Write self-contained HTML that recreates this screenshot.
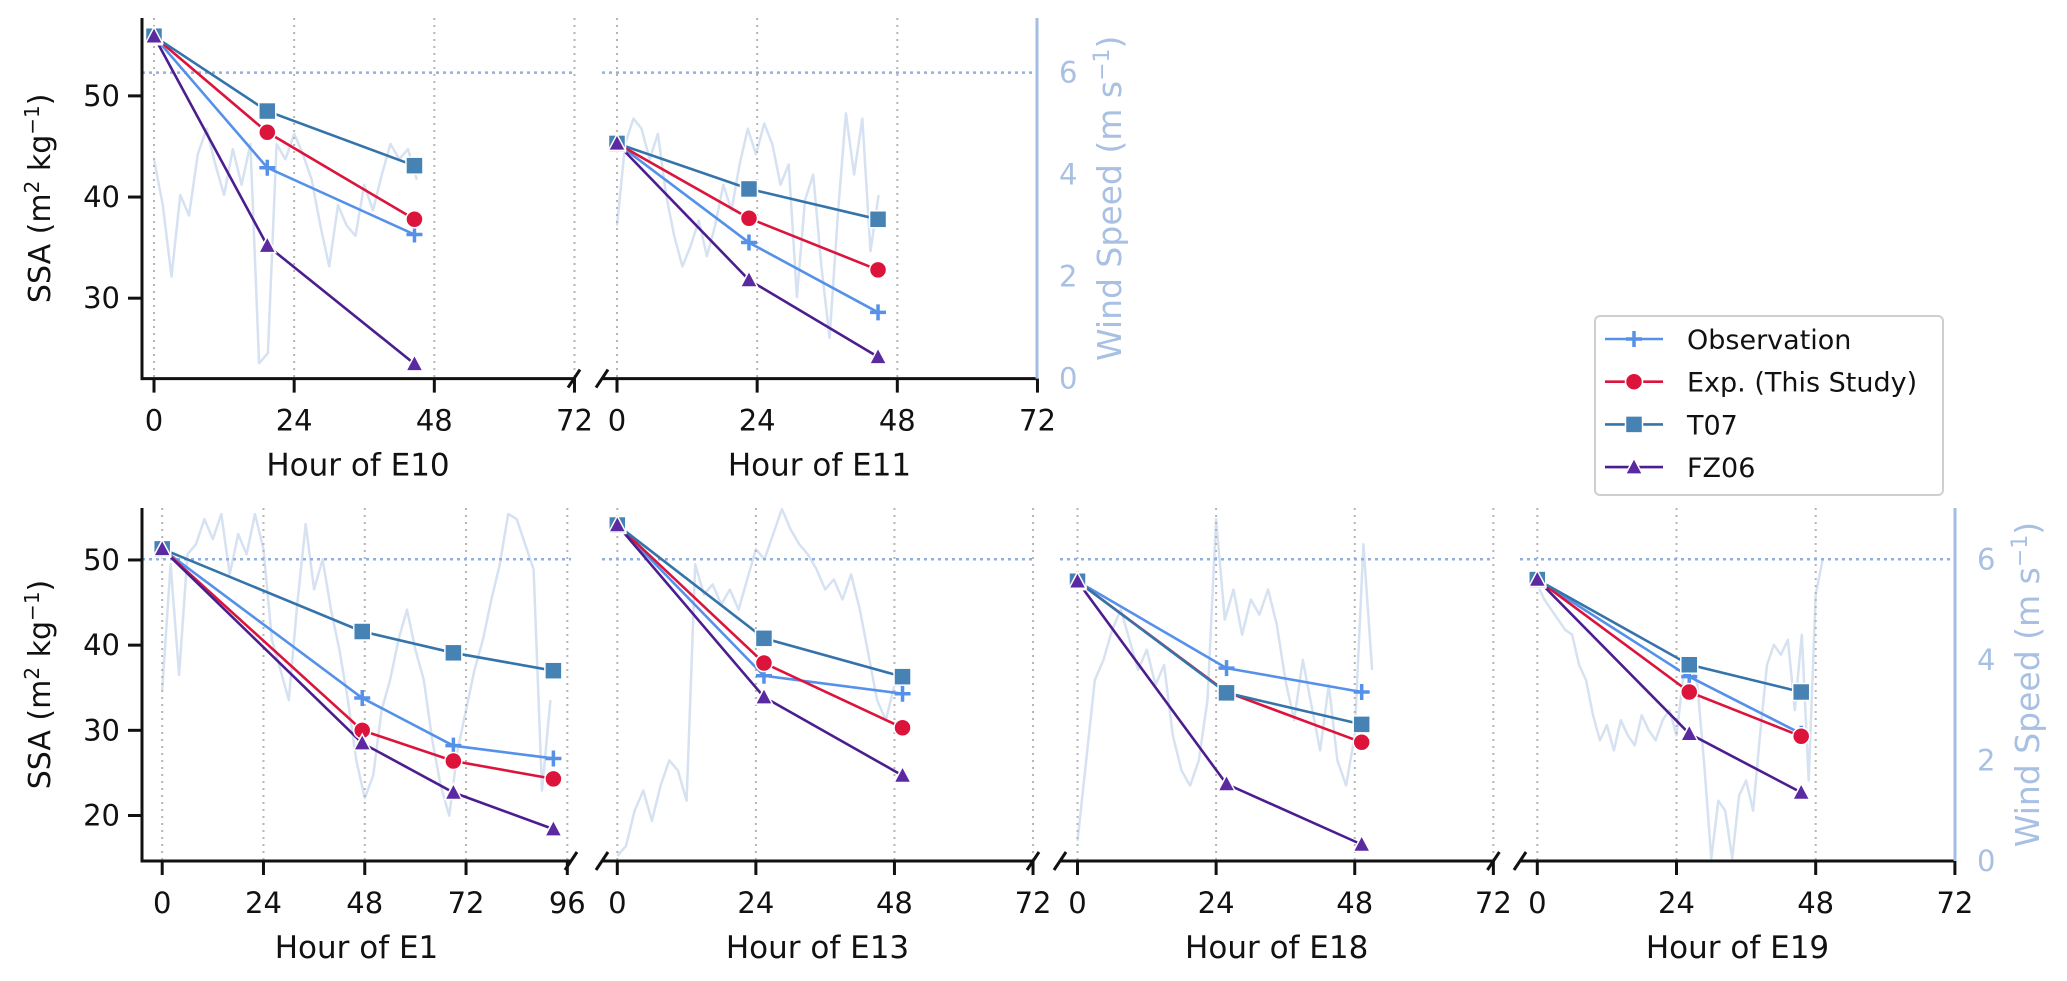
<!DOCTYPE html>
<html><head><meta charset="utf-8">
<style>
html,body{margin:0;padding:0;background:#fff;}
svg{display:block;}
text{font-family:"DejaVu Sans","Liberation Sans",sans-serif;}
</style></head>
<body>
<svg id="chart" width="2067" height="981" viewBox="0 0 2067 981" xmlns="http://www.w3.org/2000/svg"></svg>
<script>
// ---- data ----
const seriesNames = ["Observation", "Exp. (This Study)", "T07", "FZ06"];

const e10Hours = [0, 19.4, 44.6];
const e10Obs = [55.9, 42.9, 36.3];
const e10Exp = [55.9, 46.4, 37.8];
const e10T07 = [55.9, 48.5, 43.1];
const e10FZ06 = [55.9, 35.2, 23.5];
const e10WindStart = 0, e10WindStep = 1.5;
const e10Wind = [4.3,3.4,2.0,3.6,3.2,4.4,4.9,4.2,3.6,4.5,3.8,4.6,0.3,0.5,4.6,4.3,4.8,4.4,3.9,3.0,2.2,3.4,3.0,2.8,3.8,3.3,4.0,4.6,4.3,4.5,3.9];

const e11Hours = [0, 22.6, 44.7];
const e11Obs = [45.3, 35.5, 28.6];
const e11Exp = [45.3, 37.9, 32.8];
const e11T07 = [45.3, 40.8, 37.8];
const e11FZ06 = [45.3, 31.8, 24.2];
const e11WindStart = 0, e11WindStep = 1.4;
const e11Wind = [3.0,4.6,5.1,4.9,4.3,4.8,3.6,2.8,2.2,2.6,3.1,2.4,3.0,3.8,3.3,4.2,4.9,4.4,5.0,4.6,3.8,4.2,1.6,3.5,4.0,2.2,0.8,3.2,5.2,4.0,5.1,2.5,3.6];

const e1Hours = [0, 47.4, 69, 92.7];
const e1Obs = [51.3, 33.8, 28.2, 26.7];
const e1Exp = [51.3, 30.0, 26.4, 24.3];
const e1T07 = [51.3, 41.6, 39.1, 37.0];
const e1FZ06 = [51.3, 28.5, 22.7, 18.4];
const e1WindStart = 0, e1WindStep = 2;
const e1Wind = [3.4,5.9,3.7,6.1,6.3,6.8,6.4,6.9,5.7,6.5,6.1,6.9,6.2,4.4,3.8,3.2,5.1,6.7,5.4,6.0,5.0,4.2,3.2,2.0,1.25,1.7,3.0,3.6,4.4,5.0,4.2,3.6,2.4,1.5,0.9,2.2,3.0,3.8,4.4,5.2,5.9,6.9,6.8,6.3,5.8,1.4,3.2];

const e13Hours = [0, 25.4, 49.4];
const e13Obs = [54.1, 36.4, 34.3];
const e13Exp = [54.1, 37.9, 30.3];
const e13T07 = [54.1, 40.8, 36.3];
const e13FZ06 = [54.1, 33.9, 24.7];
const e13WindStart = 0, e13WindStep = 1.5;
const e13Wind = [0.1,0.3,1.0,1.4,0.8,1.5,2.0,1.8,1.2,5.9,5.3,5.5,5.1,5.4,5.0,5.6,6.2,6.0,6.5,7.0,6.6,6.3,6.1,5.8,5.4,5.6,5.2,5.7,5.0,4.1,3.2,2.8,3.5,3.5];

const e18Hours = [0, 25.8, 49.2];
const e18Obs = [47.5, 37.3, 34.5];
const e18Exp = [47.5, 34.5, 28.6];
const e18T07 = [47.5, 34.4, 30.7];
const e18FZ06 = [47.5, 23.7, 16.6];
const e18WindStart = 0, e18WindStep = 1.5;
const e18Wind = [0.4,2.0,3.6,4.0,4.6,5.0,4.4,3.8,4.2,3.5,3.9,2.5,1.8,1.5,2.0,3.2,6.8,4.8,5.4,4.5,5.2,4.9,5.4,4.7,3.6,2.8,4.0,3.1,2.2,3.5,2.0,1.5,2.5,6.3,3.8];

const e19Hours = [0, 26.2, 45.5];
const e19Obs = [47.7, 36.3, 29.6];
const e19Exp = [47.7, 34.5, 29.3];
const e19T07 = [47.7, 37.7, 34.5];
const e19FZ06 = [47.7, 29.6, 22.7];
const e19WindStart = 0, e19WindStep = 1.2;
const e19Wind = [5.5,5.2,5.0,4.8,4.6,4.5,3.9,3.6,2.9,2.4,2.7,2.2,2.8,2.5,2.3,2.9,2.6,2.4,2.8,3.0,2.5,3.7,4.0,3.5,1.9,0.05,1.2,1.0,0.05,1.3,1.6,1.0,2.5,3.9,4.3,4.1,4.4,3.0,4.5,1.6,5.3,6.0];

const ssaTicksTop = [30, 40, 50];
const ssaTicksBottom = [20, 30, 40, 50];
const windTicks = [0, 2, 4, 6];
const windThreshold = 6;
const hourTicks = [0, 24, 48, 72];
const hourTicksE1 = [0, 24, 48, 72, 96];

// ---- layout ----
const NS = "http://www.w3.org/2000/svg";
const svg = document.getElementById("chart");
const colors = {obs:"#5591e8", exp:"#dc143c", t07:"#3574aa", t07m:"#4682b4", fz:"#4b1d8e", fzm:"#5b2aa0"};
function el(tag, attrs, parent){
  const e = document.createElementNS(NS, tag);
  for (const k in attrs) e.setAttribute(k, attrs[k]);
  (parent||svg).appendChild(e);
  return e;
}
const rowTop = {top:18, bottom:378.6, ymin:22.05, ymax:57.7, wmax:7.07};
const rowBot = {top:508, bottom:861, ymin:14.66, ymax:56.1, wmax:7.02};

const panels = [
 {id:"e10", label:"Hour of E10", row:rowTop, left:142, right:574, x0:154, pph:5.84, ticks:hourTicks, hours:e10Hours, obs:e10Obs, exp:e10Exp, t07:e10T07, fz:e10FZ06, wind:e10Wind, ws:e10WindStart, wst:e10WindStep, ySpine:true, yTicks:ssaTicksTop, breakL:false, breakR:true, rSpine:false},
 {id:"e11", label:"Hour of E11", row:rowTop, left:602, right:1037, x0:617, pph:5.84, ticks:hourTicks, hours:e11Hours, obs:e11Obs, exp:e11Exp, t07:e11T07, fz:e11FZ06, wind:e11Wind, ws:e11WindStart, wst:e11WindStep, ySpine:false, breakL:true, breakR:false, rSpine:true},
 {id:"e1", label:"Hour of E1", row:rowBot, left:142, right:571, x0:162.2, pph:4.22, ticks:hourTicksE1, hours:e1Hours, obs:e1Obs, exp:e1Exp, t07:e1T07, fz:e1FZ06, wind:e1Wind, ws:e1WindStart, wst:e1WindStep, ySpine:true, yTicks:ssaTicksBottom, breakL:false, breakR:true, rSpine:false},
 {id:"e13", label:"Hour of E13", row:rowBot, left:602, right:1033, x0:617.3, pph:5.774, ticks:hourTicks, hours:e13Hours, obs:e13Obs, exp:e13Exp, t07:e13T07, fz:e13FZ06, wind:e13Wind, ws:e13WindStart, wst:e13WindStep, ySpine:false, breakL:true, breakR:true, rSpine:false},
 {id:"e18", label:"Hour of E18", row:rowBot, left:1060, right:1493.4, x0:1077.5, pph:5.776, ticks:hourTicks, hours:e18Hours, obs:e18Obs, exp:e18Exp, t07:e18T07, fz:e18FZ06, wind:e18Wind, ws:e18WindStart, wst:e18WindStep, ySpine:false, breakL:true, breakR:true, rSpine:false},
 {id:"e19", label:"Hour of E19", row:rowBot, left:1520, right:1955, x0:1537.3, pph:5.8, ticks:hourTicks, hours:e19Hours, obs:e19Obs, exp:e19Exp, t07:e19T07, fz:e19FZ06, wind:e19Wind, ws:e19WindStart, wst:e19WindStep, ySpine:false, breakL:true, breakR:false, rSpine:true}
];

function marker(kind, x, y, g){
  let m;
  if (kind==="obs"){
    m = el("path",{d:`M${x-8},${y}H${x+8}M${x},${y-8}V${y+8}`, stroke:colors.obs, "stroke-width":3.5, fill:"none"}, g);
  } else if (kind==="exp"){
    m = el("circle",{cx:x, cy:y, r:8.5, fill:colors.exp, stroke:"#fff", "stroke-width":1.5}, g);
  } else if (kind==="t07"){
    m = el("rect",{x:x-8.5, y:y-8.5, width:17, height:17, fill:colors.t07m, stroke:"#fff", "stroke-width":1.5}, g);
  } else {
    m = el("path",{d:`M${x},${y-9}L${x+8.5},${y+7}L${x-8.5},${y+7}Z`, fill:colors.fzm, stroke:"#fff", "stroke-width":1.5}, g);
  }
  return m;
}

panels.forEach(p=>{
  const r = p.row;
  const X = h => p.x0 + h*p.pph;
  const Y = v => r.bottom - (v - r.ymin)/(r.ymax - r.ymin)*(r.bottom - r.top);
  const W = w => r.bottom - w/r.wmax*(r.bottom - r.top);
  const g = el("g",{});
  
  

  const wp = p.wind.map((w,i)=>`${i?"L":"M"}${X(p.ws+i*p.wst).toFixed(1)},${W(w).toFixed(1)}`).join("");
  const wl = el("path",{d:wp, fill:"none", stroke:"#d6e2f1", "stroke-width":2.5, "stroke-linejoin":"round"}, g);
  
  

  p.ticks.forEach(t=>{
    const gl = el("line",{x1:X(t), x2:X(t), y1:r.top, y2:r.bottom, stroke:"#b5b5b5", "stroke-width":2, "stroke-dasharray":"2,5"}, g);
    
    
  });
  const th = el("line",{x1:p.left, x2:p.right, y1:W(windThreshold), y2:W(windThreshold), stroke:"#8fb0e0", "stroke-width":2.5, "stroke-dasharray":"3,4"}, g);
  
  

  const ser = [["obs",p.obs,colors.obs],["exp",p.exp,colors.exp],["t07",p.t07,colors.t07],["fz",p.fz,colors.fz]];
  ser.forEach(([k,vals,c])=>{
    const d = vals.map((v,i)=>`${i?"L":"M"}${X(p.hours[i]).toFixed(1)},${Y(v).toFixed(1)}`).join("");
    const ln = el("path",{d:d, fill:"none", stroke:c, "stroke-width":2.6}, g);
    
    
  });
  ser.forEach(([k,vals])=>{
    vals.forEach((v,i)=>{
      const m = marker(k, X(p.hours[i]), Y(v), g);
      
      
    });
  });

  const xa = el("line",{x1:p.left, x2:p.right, y1:r.bottom, y2:r.bottom, stroke:"#111", "stroke-width":3}, g);
  
  
  p.ticks.forEach(t=>{
    el("line",{x1:X(t), x2:X(t), y1:r.bottom, y2:r.bottom+14, stroke:"#111", "stroke-width":3}, g);
    const tl = el("text",{x:X(t), y:r.bottom+52, "text-anchor":"middle", "font-size":29, fill:"#111"}, g);
    tl.textContent = t;
    
    
  });
  const xl = el("text",{x:(p.left+p.right)/2, y:r.bottom+97, "text-anchor":"middle", "font-size":31, fill:"#111"}, g);
  xl.textContent = p.label;
  
  

  if (p.breakR){ el("line",{x1:p.right-6, y1:r.bottom+9, x2:p.right+6, y2:r.bottom-9, stroke:"#111", "stroke-width":3}, g); }
  if (p.breakL){ el("line",{x1:p.left-6, y1:r.bottom+9, x2:p.left+6, y2:r.bottom-9, stroke:"#111", "stroke-width":3}, g); }

  if (p.ySpine){
    const ya = el("line",{x1:p.left, x2:p.left, y1:r.top, y2:r.bottom+1.5, stroke:"#111", "stroke-width":3}, g);
    
    
    p.yTicks.forEach(v=>{
      el("line",{x1:p.left-14, x2:p.left, y1:Y(v), y2:Y(v), stroke:"#111", "stroke-width":3}, g);
      const t = el("text",{x:p.left-22, y:Y(v)+10, "text-anchor":"end", "font-size":29, fill:"#111"}, g);
      t.textContent = v;
      
      
    });
    const cy = (r.top+r.bottom)/2;
    const yl = el("text",{x:0, y:0, transform:`translate(50,${cy}) rotate(-90)`, "text-anchor":"middle", "font-size":30, fill:"#111"}, g);
    yl.innerHTML = 'SSA (m<tspan dy="-11" font-size="20">2</tspan><tspan dy="11"> kg</tspan><tspan dy="-11" font-size="20">−1</tspan><tspan dy="11">)</tspan>';
    
    
  }
  if (p.rSpine){
    const ra = el("line",{x1:p.right, x2:p.right, y1:r.top, y2:r.bottom, stroke:"#a3bde3", "stroke-width":3}, g);
    
    
    windTicks.forEach(w=>{
      const t = el("text",{x:p.right+22, y:W(w)+10, "font-size":29, fill:"#a8c0e2"}, g);
      t.textContent = w;
      
      
    });
    const cy = (r.top+r.bottom)/2;
    const wl2 = el("text",{x:0, y:0, transform:`translate(${p.right+84},${cy}) rotate(-90)`, "text-anchor":"middle", "font-size":33, fill:"#a8c0e2"}, g);
    wl2.innerHTML = 'Wind Speed (m s<tspan dy="-12" font-size="22">−1</tspan><tspan dy="12">)</tspan>';
    
    
  }
});

const lg = el("g",{});


el("rect",{x:1595, y:316, width:348, height:179, rx:5, fill:"#fff", stroke:"#cfcfcf", "stroke-width":2}, lg);
const legKeys = ["obs","exp","t07","fz"];
const legCols = [colors.obs, colors.exp, colors.t07, colors.fz];
seriesNames.forEach((n,i)=>{
  const y = 339 + i*42.7;
  const e = el("g",{}, lg);
  
  
  el("line",{x1:1605, x2:1663, y1:y, y2:y, stroke:legCols[i], "stroke-width":2.6}, e);
  marker(legKeys[i], 1634, y, e);
  const t = el("text",{x:1687, y:y+10, "font-size":27, fill:"#111"}, e);
  t.textContent = n;
});
</script>
</body></html>
